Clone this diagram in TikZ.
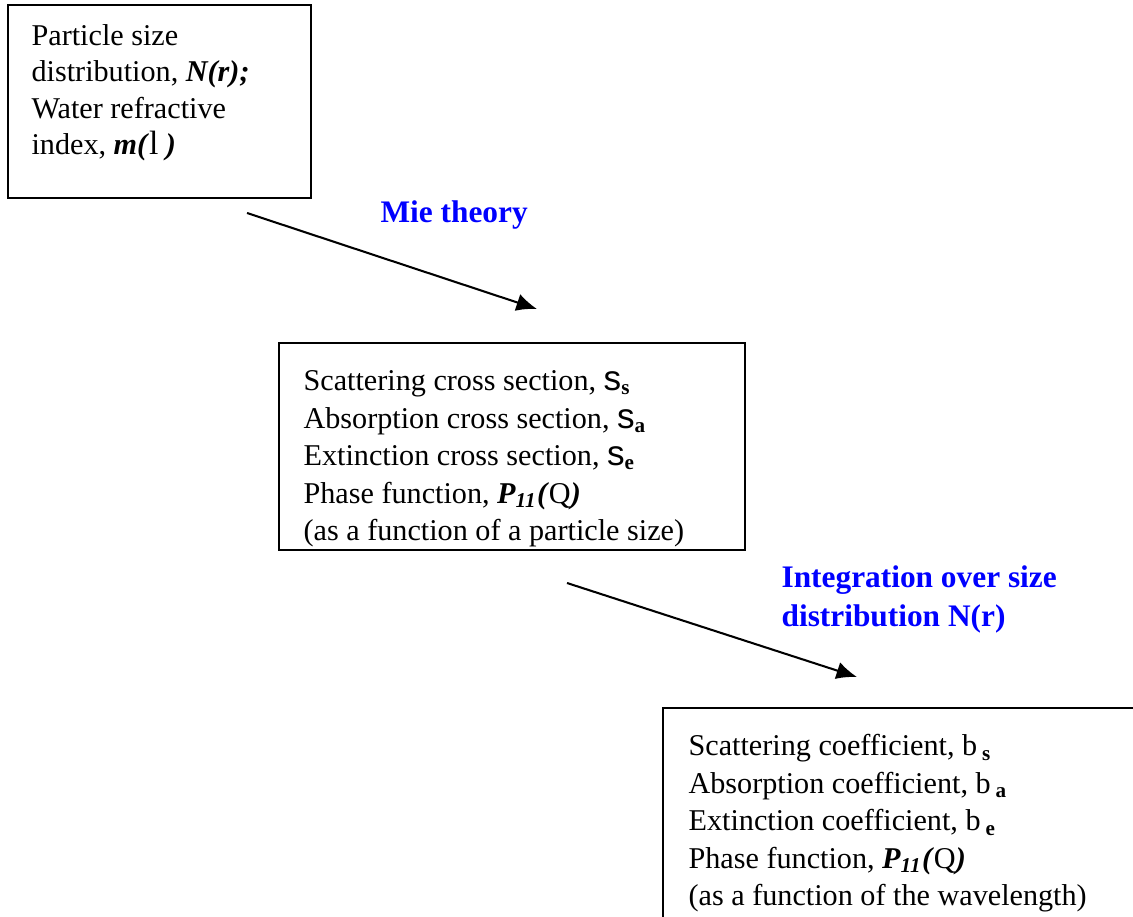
\documentclass[tikz,border=0pt]{standalone}
\usepackage{fontspec}
\setmainfont{Liberation Serif}
\newfontfamily\fakesym{Liberation Sans}
\usepackage{tikz}
\usetikzlibrary{arrows.meta}

% the symbol glyphs as the picture prints them
\newcommand{\sgm}[1]{{\fakesym\fontsize{12}{12}\selectfont s}\textsubscript{\textbf{#1}}}
\newcommand{\bta}[1]{b\,\textsubscript{\textbf{#1}}}
\newcommand{\phasefn}{\textbf{\textit{P\textsubscript{11}(}}Q\textbf{\textit{)}}}

\begin{document}
\begin{tikzpicture}[x=0.012cm, y=-0.012cm,
  framebox/.style={draw, line width=0.7pt, inner sep=0, outer sep=0, anchor=north west},
  boxtext/.style={inner sep=0, anchor=north west, align=left},
  steplabel/.style={font=\fontsize{10.7}{13.3}\selectfont\bfseries, text=blue, inner sep=0, anchor=base west, align=left},
  flow/.style={line width=0.7pt, -{Latex[length=7pt, width=6pt]}}]
\useasboundingbox (0,0) rectangle (1133,916);
\clip (0,0) rectangle (1133,916);
%boxes
\node[framebox, minimum width=303*0.012cm, minimum height=193*0.012cm] (input) at (8,5) {};
\node[framebox, minimum width=466*0.012cm, minimum height=207*0.012cm] (cross) at (279,343) {};
\node[framebox, minimum width=500*0.012cm, minimum height=240*0.012cm] (coeff) at (663,708) {};
%texts
\node[boxtext, font=\fontsize{10.3}{12.4}\selectfont] (inputtext) at (31,24) {Particle size\\ distribution, \textbf{\textit{N(r);}}\\ Water refractive\\ index, \textbf{\textit{m(}}{\fontsize{11.5}{12}\selectfont l} \textbf{\textit{)}}};
\begin{scope}
\clip (cross.south west) rectangle (cross.north east);
\node[boxtext, font=\fontsize{10.3}{12.8}\selectfont] (crosstext) at (303,370) {Scattering cross section, \sgm{s}\\ Absorption cross section, \sgm{a}\\ Extinction cross section, \sgm{e}\\ Phase function, \phasefn\\ (as a function of a particle size)};
\end{scope}
\node[boxtext, font=\fontsize{10.3}{12.8}\selectfont] (coefftext) at (688,734) {Scattering coefficient, \bta{s}\\ Absorption coefficient, \bta{a}\\ Extinction coefficient, \bta{e}\\ Phase function, \phasefn\\ (as a function of the wavelength)};
%labels
\node[steplabel] (mie) at (380,223) {Mie theory};
\node[steplabel] (integ) at (781,626) {Integration over size\\ distribution N(r)};
%arrows
\coordinate (a1) at (247,213);
\coordinate (b1) at (537,309);
\coordinate (a2) at (567,583);
\coordinate (b2) at (857,677);
\draw [flow] (a1) -- (b1);
\draw [flow] (a2) -- (b2);
\end{tikzpicture}
\end{document}
